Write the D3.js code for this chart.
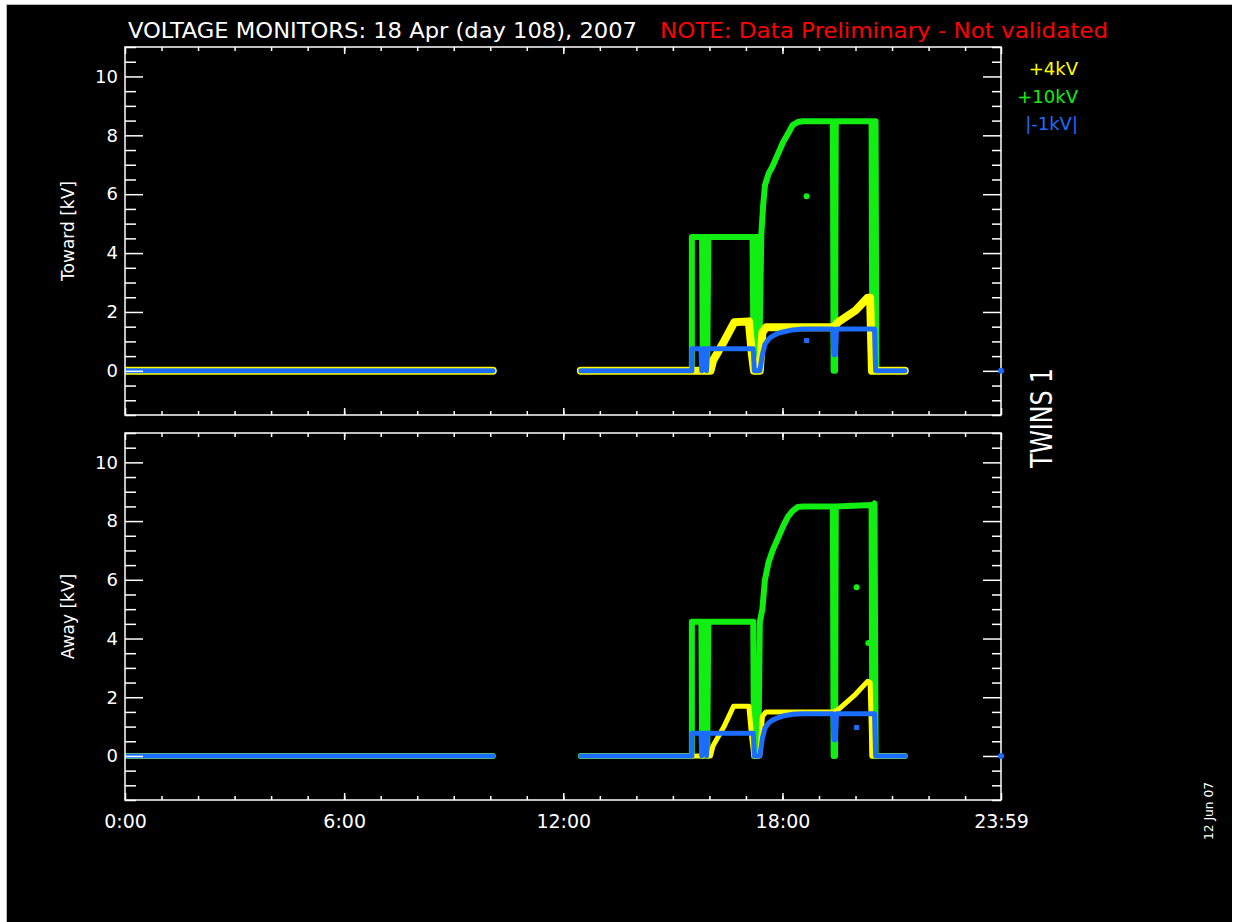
<!DOCTYPE html>
<html>
<head>
<meta charset="utf-8">
<script src="https://cdn.jsdelivr.net/npm/d3@7"></script>
<style>
  html, body { margin: 0; padding: 0; background: #ffffff; }
  svg { display: block; }
</style>
</head>
<body>
<svg id="chart" width="1235" height="922"></svg>
<script>
// ---------------- DATA ----------------
const titleText = "VOLTAGE MONITORS: 18 Apr (day 108), 2007";
const noteText = "NOTE: Data Preliminary - Not validated";
const panelNames = ["Toward [kV]", "Away [kV]"];
const seriesNames = ["+4kV", "+10kV", "|-1kV|"];
const xTickValues = [0, 6, 12, 18, 23.983];
const xTickLabels = ["0:00", "6:00", "12:00", "18:00", "23:59"];
const yTickValues = [0, 2, 4, 6, 8, 10];
const xDomain = [0, 23.983];
const yDomain = [-1.5, 11];

// [hour, kV]; null = data gap
const towardGreen = [[0,0],[10.07,0],null,[12.48,0],[15.52,0],[15.52,4.55],[15.80,4.55],[15.82,0],[15.85,4.55],[15.92,4.55],[15.94,0],[15.97,4.55],
  [17.18,4.55],[17.21,0],[17.26,4.55],[17.33,4.55],[17.36,0],[17.42,4.6],[17.47,5.6],[17.52,6.3],[17.62,6.7],[17.73,6.95],[17.87,7.35],
  [18.01,7.75],[18.15,8.05],[18.28,8.35],[18.42,8.45],[18.56,8.48],[19.38,8.48],[19.40,0],[19.44,0],[19.46,8.48],[20.44,8.48],[20.46,0],
  [20.49,8.48],[20.55,8.48],[20.57,0],[21.35,0]];
const towardYellow = [[0,0],[10.07,0],null,[12.48,0],[16.03,0],[16.10,0.35],[16.40,1.0],[16.68,1.65],[17.08,1.68],[17.16,0.6],[17.22,0],
  [17.38,0],[17.45,1.3],[17.55,1.48],[19.40,1.48],[19.52,1.65],[20.0,2.05],[20.33,2.48],[20.40,2.48],[20.45,0],[21.35,0]];
const towardBlue = [[0,0],[10.07,0],null,[12.48,0],[15.52,0],[15.52,0.75],[15.77,0.75],[15.79,0],[15.82,0.75],[15.90,0.75],[15.92,0],[15.95,0.75],
  [17.20,0.75],[17.23,0],[17.38,0],[17.45,0.55],[17.52,0.9],[17.62,1.08],[17.73,1.18],[17.87,1.27],[18.01,1.32],[18.28,1.39],[18.56,1.42],
  [19.38,1.42],[19.41,0.55],[19.45,0.55],[19.48,1.42],[20.52,1.42],[20.55,0],[21.35,0]];
const towardGreenDots = [[18.66,5.93]];
const towardBlueDots = [[18.66,1.03]];
const towardBlueEnd = [[23.983,0]];

const awayGreen = [[0,0],[10.07,0],null,[12.48,0],[15.52,0],[15.52,4.57],[15.78,4.57],[15.80,0],[15.83,4.57],[15.92,4.57],[15.94,0],[15.97,4.57],
  [17.20,4.57],[17.22,0],[17.34,0],[17.38,4.57],[17.45,5.0],[17.52,6.0],[17.62,6.6],[17.73,7.0],[17.87,7.4],[18.01,7.8],[18.15,8.15],
  [18.28,8.35],[18.42,8.48],[18.56,8.5],[19.38,8.5],[19.40,0],[19.44,0],[19.46,8.5],[20.44,8.55],[20.46,0],[20.49,8.55],[20.52,8.6],
  [20.55,0],[21.35,0]];
const awayYellow = [[0,0],[10.07,0],null,[12.48,0],[16.03,0],[16.10,0.35],[16.40,1.0],[16.66,1.69],[17.08,1.69],[17.16,0.6],[17.22,0],
  [17.38,0],[17.45,1.35],[17.55,1.5],[19.40,1.5],[19.55,1.6],[20.0,2.1],[20.33,2.54],[20.40,2.5],[20.45,0],[21.35,0]];
const awayBlue = [[0,0],[10.07,0],null,[12.48,0],[15.52,0],[15.52,0.77],[15.77,0.77],[15.79,0],[15.82,0.77],[15.90,0.77],[15.92,0],[15.95,0.77],
  [17.20,0.77],[17.23,0],[17.38,0],[17.45,0.6],[17.52,0.95],[17.62,1.12],[17.73,1.22],[17.87,1.3],[18.01,1.36],[18.28,1.42],[18.56,1.44],
  [19.38,1.44],[19.41,0.55],[19.45,0.55],[19.48,1.44],[20.52,1.44],[20.55,0],[21.35,0]];
const awayGreenDots = [[20.03,5.75],[20.35,3.85]];
const awayBlueDots = [[20.03,0.97]];
const awayBlueEnd = [[23.983,0]];

// ---------------- STYLE ----------------
const colors = { yellow: "#ffff00", green: "#11ee11", blue: "#1a6dff" };
const fontTick = "'DejaVu Sans', sans-serif";
const fontNarrow = "'Liberation Sans Narrow', 'DejaVu Sans Condensed', sans-serif";

const svg = d3.select("#chart");
svg.append("rect").attr("x", 0).attr("y", 0).attr("width", 1235).attr("height", 922).attr("fill", "#ffffff");
svg.append("rect").attr("x", 6).attr("y", 4).attr("width", 1226).attr("height", 918).attr("fill", "#bbbbbb");
svg.append("rect").attr("x", 7).attr("y", 5).attr("width", 1225).attr("height", 917).attr("fill", "#000000");

const left = 125, right = 1001;
const x = d3.scaleLinear().domain(xDomain).range([left, right]);

const panels = [
  { top: 47, bottom: 415, name: panelNames[0], green: towardGreen, yellow: towardYellow, blue: towardBlue,
    gDots: towardGreenDots, bDots: towardBlueDots, bEnd: towardBlueEnd, yellowW: 8, labels: false },
  { top: 433, bottom: 800, name: panelNames[1], green: awayGreen, yellow: awayYellow, blue: awayBlue,
    gDots: awayGreenDots, bDots: awayBlueDots, bEnd: awayBlueEnd, yellowW: 5, labels: true }
];

const minorX = d3.range(1, 24);
const minorY = d3.range(-1.5, 11.01, 0.5).filter(v => Math.abs(v % 2) > 1e-9);

panels.forEach(p => {
  const y = d3.scaleLinear().domain(yDomain).range([p.bottom, p.top]);
  const g = svg.append("g");

  const clipId = "clip" + p.top;
  svg.append("clipPath").attr("id", clipId).append("rect")
    .attr("x", left).attr("y", p.top).attr("width", right - left).attr("height", p.bottom - p.top);

  const line = d3.line().defined(d => d !== null).x(d => x(d[0])).y(d => y(d[1]));
  const data = g.append("g").attr("clip-path", `url(#${clipId})`);
  data.append("path").datum(p.green).attr("d", line).attr("fill", "none")
    .attr("stroke", colors.green).attr("stroke-width", 6).attr("stroke-linejoin", "round").attr("stroke-linecap", "round");
  data.selectAll(".gd").data(p.gDots).join("circle").attr("cx", d => x(d[0])).attr("cy", d => y(d[1])).attr("r", 3).attr("fill", colors.green);
  data.append("path").datum(p.yellow).attr("d", line).attr("fill", "none")
    .attr("stroke", colors.yellow).attr("stroke-width", p.yellowW).attr("stroke-linejoin", "round").attr("stroke-linecap", "round");
  data.append("path").datum(p.blue).attr("d", line).attr("fill", "none")
    .attr("stroke", colors.blue).attr("stroke-width", 5).attr("stroke-linejoin", "round").attr("stroke-linecap", "round");
  data.selectAll(".bd").data(p.bDots).join("rect").attr("x", d => x(d[0]) - 2.5).attr("y", d => y(d[1]) - 2.5)
    .attr("width", 5).attr("height", 5).attr("fill", colors.blue);

  const axisStyle = sel => {
    sel.select(".domain").remove();
    sel.selectAll(".tick line").attr("stroke", "#ffffff").attr("stroke-width", 1.5);
    sel.selectAll("text").attr("fill", "#ffffff").attr("font-family", fontTick);
  };

  g.append("g").attr("transform", `translate(${left},0)`)
    .call(d3.axisLeft(y).tickValues(yTickValues).tickSize(-18).tickPadding(7).tickFormat(d3.format("d")))
    .call(axisStyle).selectAll("text").attr("font-size", 18);
  g.append("g").attr("transform", `translate(${left},0)`)
    .call(d3.axisLeft(y).tickValues(minorY).tickSize(-11).tickFormat("")).call(axisStyle);
  g.append("g").attr("transform", `translate(${right},0)`)
    .call(d3.axisRight(y).tickValues(yTickValues).tickSize(-18).tickFormat("")).call(axisStyle);
  g.append("g").attr("transform", `translate(${right},0)`)
    .call(d3.axisRight(y).tickValues(minorY).tickSize(-9).tickFormat("")).call(axisStyle);

  const bottomAx = d3.axisBottom(x).tickValues(xTickValues).tickSize(-7).tickPadding(15)
    .tickFormat((d, i) => p.labels ? xTickLabels[i] : "");
  g.append("g").attr("transform", `translate(0,${p.bottom})`).call(bottomAx).call(axisStyle)
    .selectAll("text").attr("font-size", 19);
  g.append("g").attr("transform", `translate(0,${p.bottom})`)
    .call(d3.axisBottom(x).tickValues(minorX).tickSize(-4).tickFormat("")).call(axisStyle);
  g.append("g").attr("transform", `translate(0,${p.top})`)
    .call(d3.axisTop(x).tickValues(xTickValues).tickSize(-7).tickFormat("")).call(axisStyle);
  g.append("g").attr("transform", `translate(0,${p.top})`)
    .call(d3.axisTop(x).tickValues(minorX).tickSize(-4).tickFormat("")).call(axisStyle);

  g.append("rect").attr("x", left).attr("y", p.top).attr("width", right - left).attr("height", p.bottom - p.top)
    .attr("fill", "none").attr("stroke", "#ffffff").attr("stroke-width", 1.5);

  // last sample at the right edge, drawn over the frame
  g.selectAll(".be").data(p.bEnd).join("circle").attr("cx", d => x(d[0])).attr("cy", d => y(d[1]))
    .attr("r", 3).attr("fill", colors.blue);

  g.append("text").attr("transform", `translate(74,${(p.top + p.bottom) / 2})rotate(-90)`)
    .attr("text-anchor", "middle").attr("fill", "#ffffff").attr("font-family", fontTick).attr("font-size", 17)
    .text(p.name);
});

svg.append("text").attr("x", 128).attr("y", 38).attr("fill", "#ffffff").attr("font-family", fontNarrow)
  .attr("font-size", 21).attr("textLength", 509).attr("lengthAdjust", "spacingAndGlyphs").text(titleText);
svg.append("text").attr("x", 660).attr("y", 38).attr("fill", "#ff0000").attr("font-family", fontNarrow)
  .attr("font-size", 21).attr("textLength", 448).attr("lengthAdjust", "spacingAndGlyphs").text(noteText);

const legendColors = [colors.yellow, colors.green, colors.blue];
svg.selectAll(".leg").data(seriesNames).join("text")
  .attr("x", 1078).attr("y", (d, i) => 75 + i * 27.5).attr("text-anchor", "end")
  .attr("fill", (d, i) => legendColors[i]).attr("font-family", fontTick).attr("font-size", 18).text(d => d);

svg.append("text").attr("transform", "translate(1052,418) rotate(-90)").attr("text-anchor", "middle")
  .attr("fill", "#ffffff").attr("font-family", fontNarrow).attr("font-size", 31)
  .attr("textLength", 100).attr("lengthAdjust", "spacingAndGlyphs").text("TWINS 1");
svg.append("text").attr("transform", "translate(1213,811) rotate(-90)").attr("text-anchor", "middle")
  .attr("fill", "#ffffff").attr("font-family", fontTick).attr("font-size", 13)
  .attr("textLength", 58).attr("lengthAdjust", "spacingAndGlyphs").text("12 Jun 07");
</script>
</body>
</html>
